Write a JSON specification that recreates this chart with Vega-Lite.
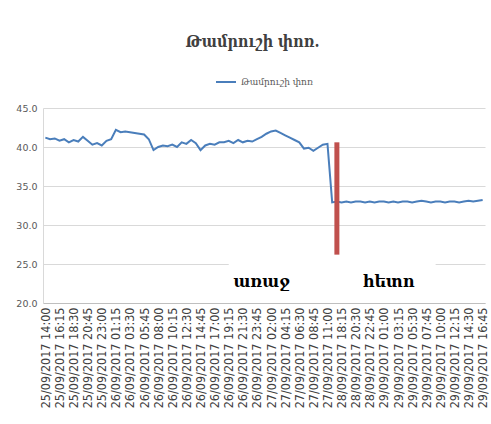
{
  "$schema": "https://vega.github.io/schema/vega-lite/v6.json",
  "width": 442,
  "height": 195,
  "autosize": "none",
  "padding": {"left": 43, "top": 108, "right": 6, "bottom": 121},
  "background": "white",
  "title": {"text": "Թամրուշի փոռ.", "font": "DejaVu Serif Condensed", "fontSize": 16, "fontWeight": "bold", "color": "#404040", "anchor": "middle", "frame": "bounds", "offset": 21},
  "config": {
    "view": {"stroke": null},
    "legend": {"layout": {"top": {"anchor": "middle"}}},
    "axisX": {"title": null, "labelAngle": -90, "labelFontSize": 12.5, "labelColor": "#404040", "ticks": false, "domainColor": "#bfbfbf", "labelPadding": 4, "labelFont": "DejaVu Sans Condensed", "labelOverlap": false, "grid": false},
    "axisY": {"title": null, "format": ".1f", "gridColor": "#d9d9d9", "domainColor": "#d9d9d9", "ticks": false, "labelFontSize": 9.5, "labelColor": "#595959", "labelPadding": 6, "labelFont": "DejaVu Sans", "labelOverlap": false}
  },
  "datasets": {
    "series": [
      {"t": "25/09/2017 14:00", "v": 41.2}, {"t": "25/09/2017 14:45", "v": 41.0}, {"t": "25/09/2017 15:30", "v": 41.1},
      {"t": "25/09/2017 16:15", "v": 40.8}, {"t": "25/09/2017 17:00", "v": 41.0}, {"t": "25/09/2017 17:45", "v": 40.6},
      {"t": "25/09/2017 18:30", "v": 40.9}, {"t": "25/09/2017 19:15", "v": 40.7}, {"t": "25/09/2017 20:00", "v": 41.3},
      {"t": "25/09/2017 20:45", "v": 40.8}, {"t": "25/09/2017 21:30", "v": 40.3}, {"t": "25/09/2017 22:15", "v": 40.5},
      {"t": "25/09/2017 23:00", "v": 40.2}, {"t": "25/09/2017 23:45", "v": 40.8}, {"t": "26/09/2017 00:30", "v": 41.0},
      {"t": "26/09/2017 01:15", "v": 42.2}, {"t": "26/09/2017 02:00", "v": 41.9}, {"t": "26/09/2017 02:45", "v": 42.0},
      {"t": "26/09/2017 03:30", "v": 41.9}, {"t": "26/09/2017 04:15", "v": 41.8}, {"t": "26/09/2017 05:00", "v": 41.7},
      {"t": "26/09/2017 05:45", "v": 41.6}, {"t": "26/09/2017 06:30", "v": 41.0}, {"t": "26/09/2017 07:15", "v": 39.6},
      {"t": "26/09/2017 08:00", "v": 40.0}, {"t": "26/09/2017 08:45", "v": 40.2}, {"t": "26/09/2017 09:30", "v": 40.1},
      {"t": "26/09/2017 10:15", "v": 40.3}, {"t": "26/09/2017 11:00", "v": 40.0}, {"t": "26/09/2017 11:45", "v": 40.6},
      {"t": "26/09/2017 12:30", "v": 40.4}, {"t": "26/09/2017 13:15", "v": 40.9}, {"t": "26/09/2017 14:00", "v": 40.5},
      {"t": "26/09/2017 14:45", "v": 39.6}, {"t": "26/09/2017 15:30", "v": 40.2}, {"t": "26/09/2017 16:15", "v": 40.4},
      {"t": "26/09/2017 17:00", "v": 40.3}, {"t": "26/09/2017 17:45", "v": 40.6}, {"t": "26/09/2017 18:30", "v": 40.6},
      {"t": "26/09/2017 19:15", "v": 40.8}, {"t": "26/09/2017 20:00", "v": 40.5}, {"t": "26/09/2017 20:45", "v": 40.9},
      {"t": "26/09/2017 21:30", "v": 40.6}, {"t": "26/09/2017 22:15", "v": 40.8}, {"t": "26/09/2017 23:00", "v": 40.7},
      {"t": "26/09/2017 23:45", "v": 41.0}, {"t": "27/09/2017 00:30", "v": 41.3}, {"t": "27/09/2017 01:15", "v": 41.7},
      {"t": "27/09/2017 02:00", "v": 42.0}, {"t": "27/09/2017 02:45", "v": 42.1}, {"t": "27/09/2017 03:30", "v": 41.8},
      {"t": "27/09/2017 04:15", "v": 41.5}, {"t": "27/09/2017 05:00", "v": 41.2}, {"t": "27/09/2017 05:45", "v": 40.9},
      {"t": "27/09/2017 06:30", "v": 40.6}, {"t": "27/09/2017 07:15", "v": 39.8}, {"t": "27/09/2017 08:00", "v": 39.9},
      {"t": "27/09/2017 08:45", "v": 39.5}, {"t": "27/09/2017 09:30", "v": 39.9}, {"t": "27/09/2017 10:15", "v": 40.3},
      {"t": "27/09/2017 11:00", "v": 40.4}, {"t": "28/09/2017 16:45", "v": 32.9}, {"t": "28/09/2017 17:30", "v": 33.0},
      {"t": "28/09/2017 18:15", "v": 32.9}, {"t": "28/09/2017 19:00", "v": 33.0}, {"t": "28/09/2017 19:45", "v": 32.9},
      {"t": "28/09/2017 20:30", "v": 33.0}, {"t": "28/09/2017 21:15", "v": 33.0}, {"t": "28/09/2017 22:00", "v": 32.9},
      {"t": "28/09/2017 22:45", "v": 33.0}, {"t": "28/09/2017 23:30", "v": 32.9}, {"t": "29/09/2017 00:15", "v": 33.0},
      {"t": "29/09/2017 01:00", "v": 33.0}, {"t": "29/09/2017 01:45", "v": 32.9}, {"t": "29/09/2017 02:30", "v": 33.0},
      {"t": "29/09/2017 03:15", "v": 32.9}, {"t": "29/09/2017 04:00", "v": 33.0}, {"t": "29/09/2017 04:45", "v": 33.0},
      {"t": "29/09/2017 05:30", "v": 32.9}, {"t": "29/09/2017 06:15", "v": 33.0}, {"t": "29/09/2017 07:00", "v": 33.1},
      {"t": "29/09/2017 07:45", "v": 33.0}, {"t": "29/09/2017 08:30", "v": 32.9}, {"t": "29/09/2017 09:15", "v": 33.0},
      {"t": "29/09/2017 10:00", "v": 33.0}, {"t": "29/09/2017 10:45", "v": 32.9}, {"t": "29/09/2017 11:30", "v": 33.0},
      {"t": "29/09/2017 12:15", "v": 33.0}, {"t": "29/09/2017 13:00", "v": 32.9}, {"t": "29/09/2017 13:45", "v": 33.0},
      {"t": "29/09/2017 14:30", "v": 33.1}, {"t": "29/09/2017 15:15", "v": 33.0}, {"t": "29/09/2017 16:00", "v": 33.1},
      {"t": "29/09/2017 16:45", "v": 33.2}
    ],
    "marker": [{"t": "28/09/2017 17:30", "top": 40.6, "bottom": 26.2}],
    "box": [{"from": "26/09/2017 19:15", "to": "29/09/2017 09:15", "low": 21.0, "high": 25.3}],
    "notes": [
      {"t": "27/09/2017 00:30", "v": 22.7, "label": "առաջ"},
      {"t": "29/09/2017 01:45", "v": 22.7, "label": "հետո"}
    ]
  },
  "layer": [
    {
      "data": {"name": "series"},
      "mark": {"type": "line", "strokeWidth": 2},
      "encoding": {
        "x": {
          "field": "t", "type": "ordinal", "sort": null,
          "scale": {"type": "point", "padding": 0.5},
          "axis": {
            "values": ["25/09/2017 14:00", "25/09/2017 16:15", "25/09/2017 18:30", "25/09/2017 20:45", "25/09/2017 23:00",
              "26/09/2017 01:15", "26/09/2017 03:30", "26/09/2017 05:45", "26/09/2017 08:00", "26/09/2017 10:15",
              "26/09/2017 12:30", "26/09/2017 14:45", "26/09/2017 17:00", "26/09/2017 19:15", "26/09/2017 21:30",
              "26/09/2017 23:45", "27/09/2017 02:00", "27/09/2017 04:15", "27/09/2017 06:30", "27/09/2017 08:45",
              "27/09/2017 11:00", "28/09/2017 18:15", "28/09/2017 20:30", "28/09/2017 22:45", "29/09/2017 01:00",
              "29/09/2017 03:15", "29/09/2017 05:30", "29/09/2017 07:45", "29/09/2017 10:00", "29/09/2017 12:15",
              "29/09/2017 14:30", "29/09/2017 16:45"]
          }
        },
        "y": {
          "field": "v", "type": "quantitative",
          "scale": {"domain": [20, 45], "nice": false, "zero": false},
          "axis": {"values": [20, 25, 30, 35, 40, 45]}
        },
        "color": {
          "datum": "Թամրուշի փոռ", "type": "nominal",
          "scale": {"range": ["#4a7ebb"]},
          "legend": {"title": null, "orient": "top", "direction": "horizontal", "labelFontSize": 9, "labelColor": "#595959", "labelFont": "DejaVu Serif", "symbolType": "stroke", "symbolStrokeWidth": 2, "symbolSize": 400, "offset": 21}
        }
      }
    },
    {
      "data": {"name": "marker"},
      "mark": {"type": "rule", "strokeWidth": 5, "color": "#c0504d"},
      "encoding": {
        "x": {"field": "t", "type": "ordinal", "sort": null},
        "y": {"field": "top", "type": "quantitative", "axis": {"values": [20, 25, 30, 35, 40, 45]}},
        "y2": {"field": "bottom"}
      }
    },
    {
      "data": {"name": "box"},
      "mark": {"type": "rect", "color": "white"},
      "encoding": {
        "x": {"field": "from", "type": "ordinal", "sort": null},
        "x2": {"field": "to"},
        "y": {"field": "low", "type": "quantitative", "axis": {"values": [20, 25, 30, 35, 40, 45]}},
        "y2": {"field": "high"}
      }
    },
    {
      "data": {"name": "notes"},
      "mark": {"type": "text", "font": "DejaVu Serif", "fontSize": 16, "fontWeight": "bold", "color": "black", "baseline": "middle", "align": "center"},
      "encoding": {
        "x": {"field": "t", "type": "ordinal", "sort": null},
        "y": {"field": "v", "type": "quantitative", "axis": {"values": [20, 25, 30, 35, 40, 45]}},
        "text": {"field": "label"}
      }
    }
  ]
}
